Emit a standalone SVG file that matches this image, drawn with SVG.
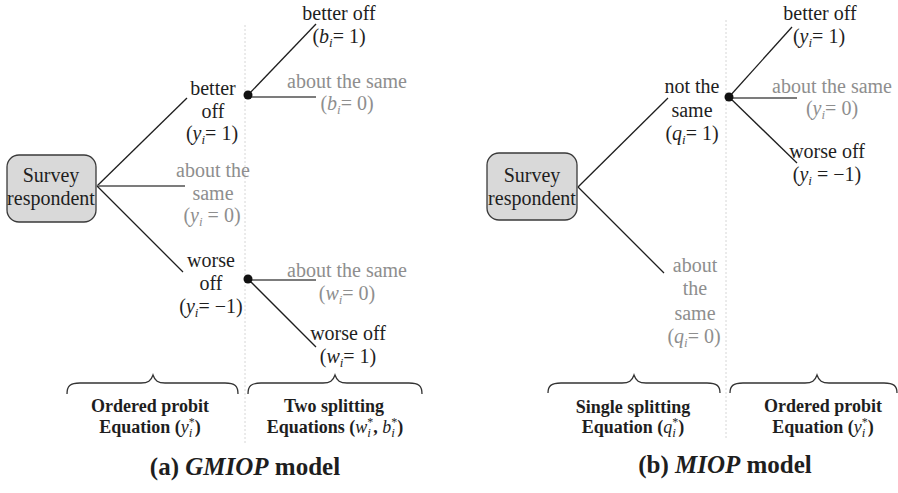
<svg xmlns="http://www.w3.org/2000/svg" width="898" height="493" viewBox="0 0 898 493">
  <style>
    text { font-family: "Liberation Serif", "DejaVu Serif", "Noto Serif", serif; }
    .lbl { font-size: 20px; fill: #1e1e1e; text-anchor: middle; }
    .gray { fill: #8e8e8e; }
    .m { font-style: italic; }
    .sub { font-size: 13px; font-style: italic; }
    .star { font-size: 12px; font-style: normal; }
    .eq { font-size: 18px; font-weight: bold; fill: #1e1e1e; text-anchor: middle; }
    .eq .m, .eq .sub, .eq .star { font-weight: normal; }
    .title { font-size: 25px; font-weight: bold; fill: #1e1e1e; text-anchor: middle; }
    .box { fill: #d9d9d9; stroke: #3a3a3a; stroke-width: 1.3; }
    .edge { stroke: #1e1e1e; stroke-width: 1.3; fill: none; }
    .edge-g { stroke: #7c7c7c; stroke-width: 2; fill: none; }
    .dot { fill: #111; }
    .guide { stroke: #d6d6d6; stroke-width: 1; stroke-dasharray: 2 2; }
    .brace { fill: none; stroke: #333; stroke-width: 1.3; }
  </style>

  <!-- dotted stage separators -->
  <g id="guides">
    <line class="guide" x1="245" y1="25" x2="245" y2="443"/>
    <line class="guide" x1="726" y1="20" x2="726" y2="440"/>
  </g>

  <!-- branches of both trees -->
  <g id="connectors">
    <!-- (a) first stage -->
    <line class="edge" x1="97" y1="186" x2="187" y2="98"/>
    <line class="edge-g" x1="97" y1="186" x2="185" y2="186"/>
    <line class="edge" x1="97" y1="186" x2="183" y2="272"/>
    <!-- (a) upper split -->
    <line class="edge" x1="248" y1="95" x2="316" y2="24"/>
    <line class="edge-g" x1="248" y1="97" x2="316" y2="97"/>
    <!-- (a) lower split -->
    <line class="edge-g" x1="248" y1="280" x2="316" y2="280"/>
    <line class="edge" x1="248" y1="279" x2="316" y2="347"/>
    <!-- (b) first stage -->
    <line class="edge" x1="578" y1="187" x2="668" y2="98"/>
    <line class="edge" x1="578" y1="187" x2="664" y2="273"/>
    <!-- (b) ordered stage -->
    <line class="edge" x1="729" y1="97" x2="792" y2="27"/>
    <line class="edge-g" x1="729" y1="98" x2="797" y2="98"/>
    <line class="edge" x1="729" y1="97" x2="797" y2="163"/>
  </g>

  <!-- ===== (a) GMIOP ===== -->
  <g id="a-root">
    <rect class="box" x="7" y="155" width="89" height="67" rx="12"/>
    <text class="lbl" x="51" y="182">Survey</text>
    <text class="lbl" x="51" y="205">respondent</text>
  </g>

  <g id="a-better">
    <circle class="dot" cx="248" cy="95" r="4.5"/>
    <text class="lbl" x="213" y="95">better</text>
    <text class="lbl" x="213" y="118">off</text>
    <text class="lbl" x="212" y="140">(<tspan class="m">y</tspan><tspan class="sub" dy="4">i</tspan><tspan dy="-4">= 1)</tspan></text>
  </g>

  <g id="a-same">
    <text class="lbl gray" x="213" y="177">about the</text>
    <text class="lbl gray" x="213" y="200">same</text>
    <text class="lbl gray" x="212" y="222">(<tspan class="m">y</tspan><tspan class="sub" dy="4">i</tspan><tspan dy="-4"> = 0)</tspan></text>
  </g>

  <g id="a-worse">
    <circle class="dot" cx="248" cy="279" r="4.5"/>
    <text class="lbl" x="211" y="267">worse</text>
    <text class="lbl" x="211" y="290">off</text>
    <text class="lbl" x="211" y="313">(<tspan class="m">y</tspan><tspan class="sub" dy="4">i</tspan><tspan dy="-4">= −1)</tspan></text>
  </g>

  <g id="a-b1">
    <text class="lbl" x="339" y="20">better off</text>
    <text class="lbl" x="339" y="43">(<tspan class="m">b</tspan><tspan class="sub" dy="4">i</tspan><tspan dy="-4">= 1)</tspan></text>
  </g>

  <g id="a-b0">
    <text class="lbl gray" x="347" y="88">about the same</text>
    <text class="lbl gray" x="347" y="110">(<tspan class="m">b</tspan><tspan class="sub" dy="4">i</tspan><tspan dy="-4">= 0)</tspan></text>
  </g>

  <g id="a-w0">
    <text class="lbl gray" x="347" y="277">about the same</text>
    <text class="lbl gray" x="347" y="300">(<tspan class="m">w</tspan><tspan class="sub" dy="4">i</tspan><tspan dy="-4">= 0)</tspan></text>
  </g>

  <g id="a-w1">
    <text class="lbl" x="348" y="340">worse off</text>
    <text class="lbl" x="348" y="363">(<tspan class="m">w</tspan><tspan class="sub" dy="4">i</tspan><tspan dy="-4">= 1)</tspan></text>
  </g>

  <g id="a-stages">
    <path class="brace" d="M67,394 C67,386 70,383 80,383 L141,383 C148,383 151,381 153,375 C155,381 158,383 165,383 L225,383 C235,383 238,386 238,394"/>
    <path class="brace" d="M248,394 C248,386 251,383 261,383 L323,383 C330,383 333,381 335,375 C337,381 340,383 347,383 L409,383 C419,383 422,386 422,394"/>
    <text class="eq" x="150" y="412">Ordered probit</text>
    <text class="eq" x="150" y="433">Equation (<tspan class="m">y</tspan><tspan class="sub" dy="4">i</tspan><tspan class="star" dx="-3.6" dy="-11">*</tspan><tspan dy="7">)</tspan></text>
    <text class="eq" x="334" y="412">Two splitting</text>
    <text class="eq" x="335" y="433">Equations (<tspan class="m">w</tspan><tspan class="sub" dy="4">i</tspan><tspan class="star" dx="-3.6" dy="-11">*</tspan><tspan dy="7">, </tspan><tspan class="m">b</tspan><tspan class="sub" dy="4">i</tspan><tspan class="star" dx="-3.6" dy="-11">*</tspan><tspan dy="7">)</tspan></text>
    <text class="title" x="245" y="475">(a) <tspan font-style="italic">GMIOP</tspan> model</text>
  </g>

  <!-- ===== (b) MIOP ===== -->
  <g id="b-root">
    <rect class="box" x="487" y="153" width="90" height="67" rx="12"/>
    <text class="lbl" x="532" y="182">Survey</text>
    <text class="lbl" x="532" y="205">respondent</text>
  </g>

  <g id="b-notsame">
    <circle class="dot" cx="729" cy="97" r="4.5"/>
    <text class="lbl" x="692" y="93">not the</text>
    <text class="lbl" x="692" y="117">same</text>
    <text class="lbl" x="692" y="140">(<tspan class="m">q</tspan><tspan class="sub" dy="4">i</tspan><tspan dy="-4">= 1)</tspan></text>
  </g>

  <g id="b-same">
    <text class="lbl gray" x="695" y="272">about</text>
    <text class="lbl gray" x="695" y="295">the</text>
    <text class="lbl gray" x="695" y="320">same</text>
    <text class="lbl gray" x="694" y="343">(<tspan class="m">q</tspan><tspan class="sub" dy="4">i</tspan><tspan dy="-4">= 0)</tspan></text>
  </g>

  <g id="b-y1">
    <text class="lbl" x="820" y="20">better off</text>
    <text class="lbl" x="819" y="43">(<tspan class="m">y</tspan><tspan class="sub" dy="4">i</tspan><tspan dy="-4">= 1)</tspan></text>
  </g>

  <g id="b-y0">
    <text class="lbl gray" x="832" y="93">about the same</text>
    <text class="lbl gray" x="832" y="115">(<tspan class="m">y</tspan><tspan class="sub" dy="4">i</tspan><tspan dy="-4">= 0)</tspan></text>
  </g>

  <g id="b-ym1">
    <text class="lbl" x="827" y="158">worse off</text>
    <text class="lbl" x="827" y="181">(<tspan class="m">y</tspan><tspan class="sub" dy="4">i</tspan><tspan dy="-4"> = −1)</tspan></text>
  </g>

  <g id="b-stages">
    <path class="brace" d="M548,393 C548,386 551,383 561,383 L622,383 C629,383 632,381 634,375 C636,381 639,383 646,383 L707,383 C717,383 720,386 720,393"/>
    <path class="brace" d="M730,393 C730,386 733,383 743,383 L805,383 C812,383 815,381 817,375 C819,381 822,383 829,383 L884,383 C894,383 897,386 897,393"/>
    <text class="eq" x="633" y="413">Single splitting</text>
    <text class="eq" x="633" y="433">Equation (<tspan class="m">q</tspan><tspan class="sub" dy="4">i</tspan><tspan class="star" dx="-3.6" dy="-11">*</tspan><tspan dy="7">)</tspan></text>
    <text class="eq" x="823" y="412">Ordered probit</text>
    <text class="eq" x="823" y="433">Equation (<tspan class="m">y</tspan><tspan class="sub" dy="4">i</tspan><tspan class="star" dx="-3.6" dy="-11">*</tspan><tspan dy="7">)</tspan></text>
    <text class="title" x="725" y="473">(b) <tspan font-style="italic">MIOP</tspan> model</text>
  </g>
</svg>
